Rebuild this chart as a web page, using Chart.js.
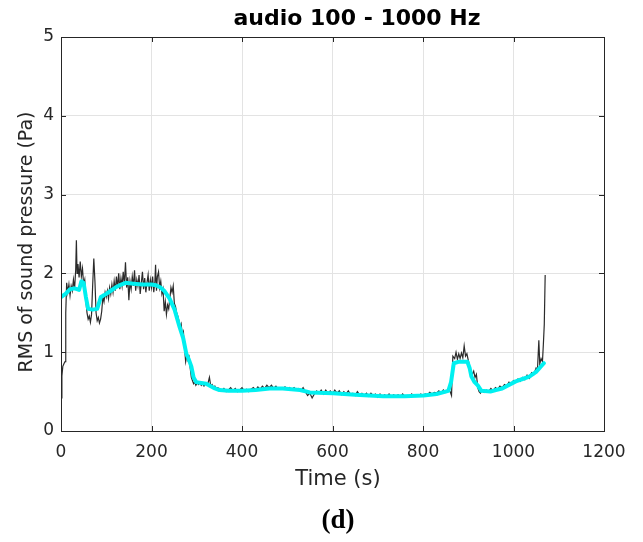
<!DOCTYPE html>
<html><head><meta charset="utf-8">
<script src="https://cdn.jsdelivr.net/npm/chart.js@4/dist/chart.umd.min.js"></script>
<style>html,body{margin:0;padding:0;background:#fff}#wrap{width:643px;height:542px}</style>
</head><body><div id="wrap"><canvas id="c" width="643" height="542"></canvas></div>
<script>
const titleText = 'audio 100 - 1000 Hz';
const xLabel = 'Time (s)';
const yLabel = 'RMS of sound pressure (Pa)';
const caption = '(d)';
const xTicks = [0, 200, 400, 600, 800, 1000, 1200];
const yTicks = [0, 1, 2, 3, 4, 5];

const rawTime = [0,2,4,7,9,10,11,12.5,15,17.5,20,22.5,25,27.5,30,32.5,34,35.5,37.5,40,42.5,45,47.5,50,52.5,55,57.5,60,62.5,65,67.5,70,72.5,75,77.5,80,82.5,85,87.5,90,92.5,95,97.5,
100,102.5,105,107.5,110,112.5,115,117.5,120,122.5,125,127.5,130,132.5,135,137.5,140,142.5,145,147.5,150,152.5,155,157.5,160,162.5,165,167.5,170,172.5,175,177.5,180,182.5,185,187.5,190,192.5,195,197.5,
200,202.5,205,207.5,209,211,213,215.5,218,220.5,223,225.5,228,230.5,233,235.5,238,240.5,243,245.5,248,250.5,253,255.5,258,260.5,263,265.5,268,270.5,273,275.5,278,280.5,283,285.5,288,290.5,293,295.5,298,
301,304,307,310,313,316,319,322,325,328,331,334,337,340,343,346,
350,355,360,365,370,375,380,385,390,395,400,405,410,415,420,425,430,435,440,445,450,455,460,465,470,475,480,485,490,495,500,505,510,515,520,525,530,535,540,545,550,555,560,565,570,575,580,585,590,595,
600,605,610,615,620,625,630,635,640,645,650,655,660,665,670,675,680,685,690,695,700,705,710,715,720,725,730,735,740,745,750,755,760,765,770,775,780,785,790,795,800,805,810,815,820,825,830,835,840,845,850,855,860,863,
866,870,873,876,879,882,885,888,891,894,897,900,903,906,909,912,915,918,921,924,927,930,935,940,945,950,955,960,965,970,975,980,985,990,995,1000,1005,1010,1015,1020,1025,1030,1035,1040,1045,1050,1053,1056,1058,1061,1064,1066,1068,1070];
const rawRms = [0.42,0.70,0.82,0.86,0.88,0.90,1.50,1.88,1.76,1.86,1.72,1.84,1.78,1.92,1.80,2.05,2.42,2.00,2.12,1.95,2.15,1.96,2.06,1.86,1.92,1.65,1.50,1.42,1.46,1.38,1.48,1.85,2.19,1.90,1.50,1.40,1.44,1.37,1.42,1.52,1.70,1.64,1.76,
1.70,1.78,1.68,1.82,1.74,1.86,1.76,1.90,1.78,1.96,1.82,2.00,1.80,1.94,1.84,2.02,1.86,2.14,1.82,1.95,1.66,1.90,1.80,1.96,1.84,2.04,1.78,1.92,1.84,1.98,1.74,1.88,2.02,1.80,1.94,1.76,1.88,1.98,1.78,1.92,
1.82,1.96,1.76,1.90,2.11,1.78,1.96,2.02,1.82,1.90,1.74,1.80,1.52,1.64,1.48,1.60,1.55,1.68,1.82,1.76,1.84,1.62,1.58,1.50,1.46,1.40,1.32,1.36,1.22,1.26,1.05,0.88,0.96,0.90,0.94,0.80,0.68,0.64,0.60,0.62,0.58,
0.61,0.59,0.62,0.58,0.60,0.57,0.60,0.58,0.61,0.68,0.57,0.59,0.55,0.57,0.53,0.55,
0.54,0.51,0.54,0.50,0.52,0.55,0.51,0.54,0.50,0.52,0.55,0.51,0.53,0.50,0.53,0.55,0.52,0.56,0.53,0.57,0.54,0.58,0.55,0.58,0.54,0.57,0.53,0.55,0.53,0.56,0.53,0.55,0.52,0.55,0.52,0.54,0.51,0.55,0.50,0.45,0.48,0.42,0.47,0.51,0.48,0.52,0.47,0.52,0.48,0.51,
0.47,0.52,0.48,0.51,0.46,0.50,0.47,0.51,0.46,0.48,0.45,0.50,0.46,0.48,0.45,0.48,0.44,0.48,0.45,0.47,0.43,0.47,0.43,0.46,0.44,0.47,0.43,0.46,0.44,0.46,0.43,0.47,0.44,0.45,0.43,0.47,0.44,0.46,0.44,0.47,0.45,0.47,0.46,0.49,0.47,0.49,0.48,0.51,0.48,0.52,0.49,0.53,0.50,0.45,
0.95,0.92,1.00,0.91,0.98,0.92,0.99,0.93,1.08,0.95,0.98,0.90,0.82,0.75,0.72,0.76,0.68,0.72,0.55,0.50,0.48,0.52,0.49,0.52,0.50,0.54,0.51,0.55,0.53,0.57,0.55,0.59,0.57,0.62,0.60,0.64,0.62,0.66,0.63,0.68,0.65,0.71,0.67,0.74,0.72,0.80,0.78,1.15,0.85,0.92,0.88,1.10,1.35,1.98];

const smoothTime = [0,10,20,30,40,45,50,55,60,70,80,88,100,110,120,130,143,160,180,200,210,220,228,240,251,262,270,277,283,288,293,299,310,321,330,340,350,370,400,430,461,490,528,550,601,650,712,760,801,830,856,862,868,880,898,903,907,914,921,929,949,961,975,1005,1020,1035,1050,1067];
const smoothRms = [1.70,1.74,1.80,1.81,1.79,1.90,1.88,1.70,1.55,1.54,1.55,1.70,1.74,1.78,1.82,1.85,1.88,1.87,1.86,1.86,1.85,1.82,1.78,1.68,1.54,1.32,1.18,0.98,0.90,0.82,0.68,0.62,0.61,0.60,0.57,0.54,0.52,0.51,0.51,0.52,0.54,0.54,0.52,0.49,0.48,0.46,0.44,0.44,0.45,0.47,0.51,0.62,0.86,0.88,0.88,0.80,0.69,0.62,0.58,0.51,0.50,0.52,0.54,0.63,0.66,0.69,0.75,0.86];

const rawPoints = rawTime.map((t, i) => ({x: t, y: rawRms[i]}));
const smoothPoints = smoothTime.map((t, i) => ({x: t, y: smoothRms[i]}));

const FONT = "'DejaVu Sans', Verdana, sans-serif";
const AX = '#262626';

const decor = {
  id: 'decor',
  afterDraw(chart) {
    const {ctx, chartArea: a, scales} = chart;
    ctx.save();
    ctx.strokeStyle = AX; ctx.lineWidth = 1;
    ctx.strokeRect(Math.round(a.left) + 0.5, Math.round(a.top) + 0.5, Math.round(a.right - a.left), Math.round(a.bottom - a.top));
    const L = 5;
    ctx.beginPath();
    xTicks.forEach(v => {
      const px = Math.round(scales.x.getPixelForValue(v)) + 0.5;
      ctx.moveTo(px, a.bottom); ctx.lineTo(px, a.bottom - L);
      ctx.moveTo(px, a.top); ctx.lineTo(px, a.top + L);
    });
    yTicks.forEach(v => {
      const py = Math.round(scales.y.getPixelForValue(v)) + 0.5;
      ctx.moveTo(a.left, py); ctx.lineTo(a.left + L, py);
      ctx.moveTo(a.right, py); ctx.lineTo(a.right - L, py);
    });
    ctx.stroke();
    ctx.fillStyle = '#000';
    ctx.textAlign = 'center'; ctx.textBaseline = 'middle';
    ctx.font = 'bold 22px ' + FONT;
    ctx.fillText(titleText, 357, 19);
    ctx.fillStyle = AX;
    ctx.font = '21px ' + FONT;
    ctx.fillText(xLabel, 338, 480);
    ctx.font = '19px ' + FONT;
    ctx.save();
    ctx.translate(27, 242);
    ctx.rotate(-Math.PI / 2);
    ctx.fillText(yLabel, 0, 0);
    ctx.restore();
    ctx.fillStyle = '#000';
    ctx.font = "bold 27px 'Liberation Serif', 'Times New Roman', serif";
    ctx.fillText(caption, 338, 521);
    ctx.restore();
  }
};

new Chart(document.getElementById('c'), {
  type: 'scatter',
  data: {
    datasets: [
      {label: 'smooth', data: smoothPoints, showLine: true, borderColor: '#00F0F0', borderWidth: 4, pointRadius: 0, tension: 0, borderJoinStyle: 'round', borderCapStyle: 'round'},
      {label: 'raw', data: rawPoints, showLine: true, borderColor: 'rgba(20,20,20,0.9)', borderWidth: 1.2, pointRadius: 0, tension: 0}
    ]
  },
  options: {
    responsive: false, animation: false, devicePixelRatio: 1,
    layout: {padding: {left: 0, right: 39, top: 37, bottom: 51}},
    plugins: {legend: {display: false}, tooltip: {enabled: false}, title: {display: false}},
    scales: {
      x: {
        type: 'linear', min: 0, max: 1200,
        afterFit: s => { s.height = 60; },
        afterBuildTicks: s => { s.ticks = xTicks.map(v => ({value: v})); },
        grid: {color: '#e3e3e3', drawTicks: false},
        border: {display: false},
        ticks: {padding: 11, color: AX, font: {family: FONT, size: 17}, maxRotation: 0, callback: v => String(v)}
      },
      y: {
        type: 'linear', min: 0, max: 5,
        afterFit: s => { s.width = 61; },
        afterBuildTicks: s => { s.ticks = yTicks.map(v => ({value: v})); },
        grid: {color: '#e3e3e3', drawTicks: false},
        border: {display: false},
        ticks: {padding: 7, color: AX, font: {family: FONT, size: 17}, callback: v => String(v)}
      }
    }
  },
  plugins: [decor]
});
</script>
</body></html>
